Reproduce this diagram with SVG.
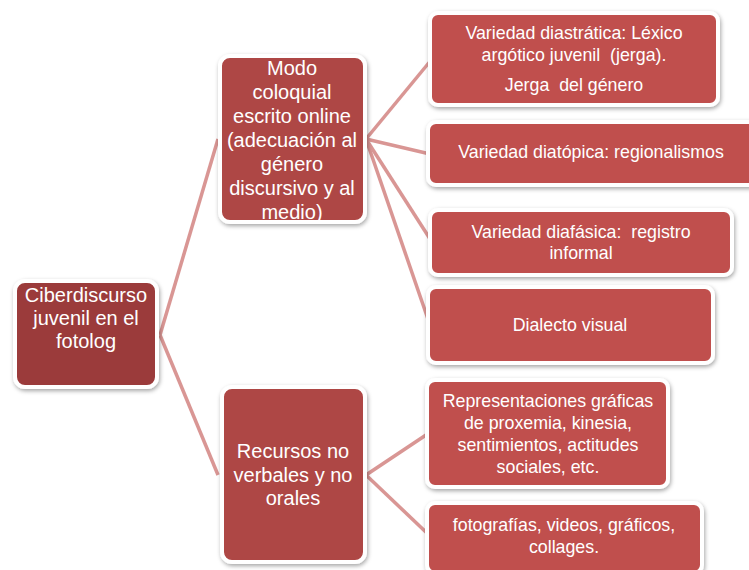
<svg xmlns="http://www.w3.org/2000/svg" width="749" height="570" viewBox="0 0 749 570">
<defs>
<filter id="sh" x="-20%" y="-20%" width="140%" height="140%">
<feDropShadow dx="1" dy="2" stdDeviation="2" flood-color="#000" flood-opacity="0.35"/>
</filter>
<style>
.box{stroke:#fff;stroke-width:4;filter:url(#sh)}
.l0{fill:#9b3b3b}
.l1{fill:#ae4644}
.l2{fill:#c0504d}
text{font-family:"Liberation Sans",Arial,sans-serif;fill:#fff;text-anchor:middle;dominant-baseline:central;white-space:pre}
.t1{font-size:20px}
.t2{font-size:17.8px}
.con{stroke:#d99694;stroke-width:3.5;fill:none}
</style>
</defs>
<rect width="749" height="570" fill="#fff"/>
<g id="connectors">
<path class="con" d="M160 335 L218 139"/>
<path class="con" d="M160 335 L218 475"/>
<path class="con" d="M366 139 L432 59"/>
<path class="con" d="M366 139 L430 154"/>
<path class="con" d="M366 139 L432 242"/>
<path class="con" d="M366 139 L430 325"/>
<path class="con" d="M366 475 L429 433"/>
<path class="con" d="M366 475 L429 535"/>
</g>
<g id="root">
<rect class="box l0" x="15" y="281" width="142" height="106" rx="10"/>
<text class="t1" x="86" y="295">Ciberdiscurso</text>
<text class="t1" x="86" y="318">juvenil en el</text>
<text class="t1" x="86" y="341">fotolog</text>
</g>
<g id="modo">
<rect class="box l1" x="220" y="56" width="145" height="166" rx="10"/>
<text class="t1" x="292" y="68">Modo</text>
<text class="t1" x="292" y="92">coloquial</text>
<text class="t1" x="292" y="116">escrito online</text>
<text class="t1" x="292" y="140">(adecuación al</text>
<text class="t1" x="292" y="164">género</text>
<text class="t1" x="292" y="188">discursivo y al</text>
<text class="t1" x="292" y="212">medio)</text>
</g>
<g id="recursos">
<rect class="box l1" x="222" y="387" width="143" height="175" rx="10"/>
<text class="t1" x="293" y="451">Recursos no</text>
<text class="t1" x="293" y="475">verbales y no</text>
<text class="t1" x="293" y="498">orales</text>
</g>
<g id="diastratica">
<rect class="box l2" x="430" y="13" width="288" height="92" rx="8"/>
<text class="t2" x="574" y="33">Variedad diastrática: Léxico</text>
<text class="t2" x="574" y="55">argótico juvenil  (jerga).</text>
<text class="t2" x="574" y="85">Jerga  del género</text>
</g>
<g id="diatopica">
<rect class="box l2" x="428" y="122" width="330" height="63" rx="8"/>
<text class="t2" x="591" y="152">Variedad diatópica: regionalismos</text>
</g>
<g id="diafasica">
<rect class="box l2" x="430" y="210" width="302" height="65" rx="8"/>
<text class="t2" x="581" y="232">Variedad diafásica:  registro</text>
<text class="t2" x="581" y="253">informal</text>
</g>
<g id="dialecto">
<rect class="box l2" x="428" y="287" width="285" height="76" rx="8"/>
<text class="t2" x="570" y="325">Dialecto visual</text>
</g>
<g id="representaciones">
<rect class="box l2" x="427" y="380" width="241" height="107" rx="8"/>
<text class="t2" x="548" y="401">Representaciones gráficas</text>
<text class="t2" x="548" y="423">de proxemia, kinesia,</text>
<text class="t2" x="548" y="445">sentimientos, actitudes</text>
<text class="t2" x="548" y="467">sociales, etc.</text>
</g>
<g id="fotografias">
<rect class="box l2" x="427" y="503" width="275" height="70" rx="8"/>
<text class="t2" x="564" y="525">fotografías, videos, gráficos,</text>
<text class="t2" x="564" y="547">collages.</text>
</g>
</svg>
